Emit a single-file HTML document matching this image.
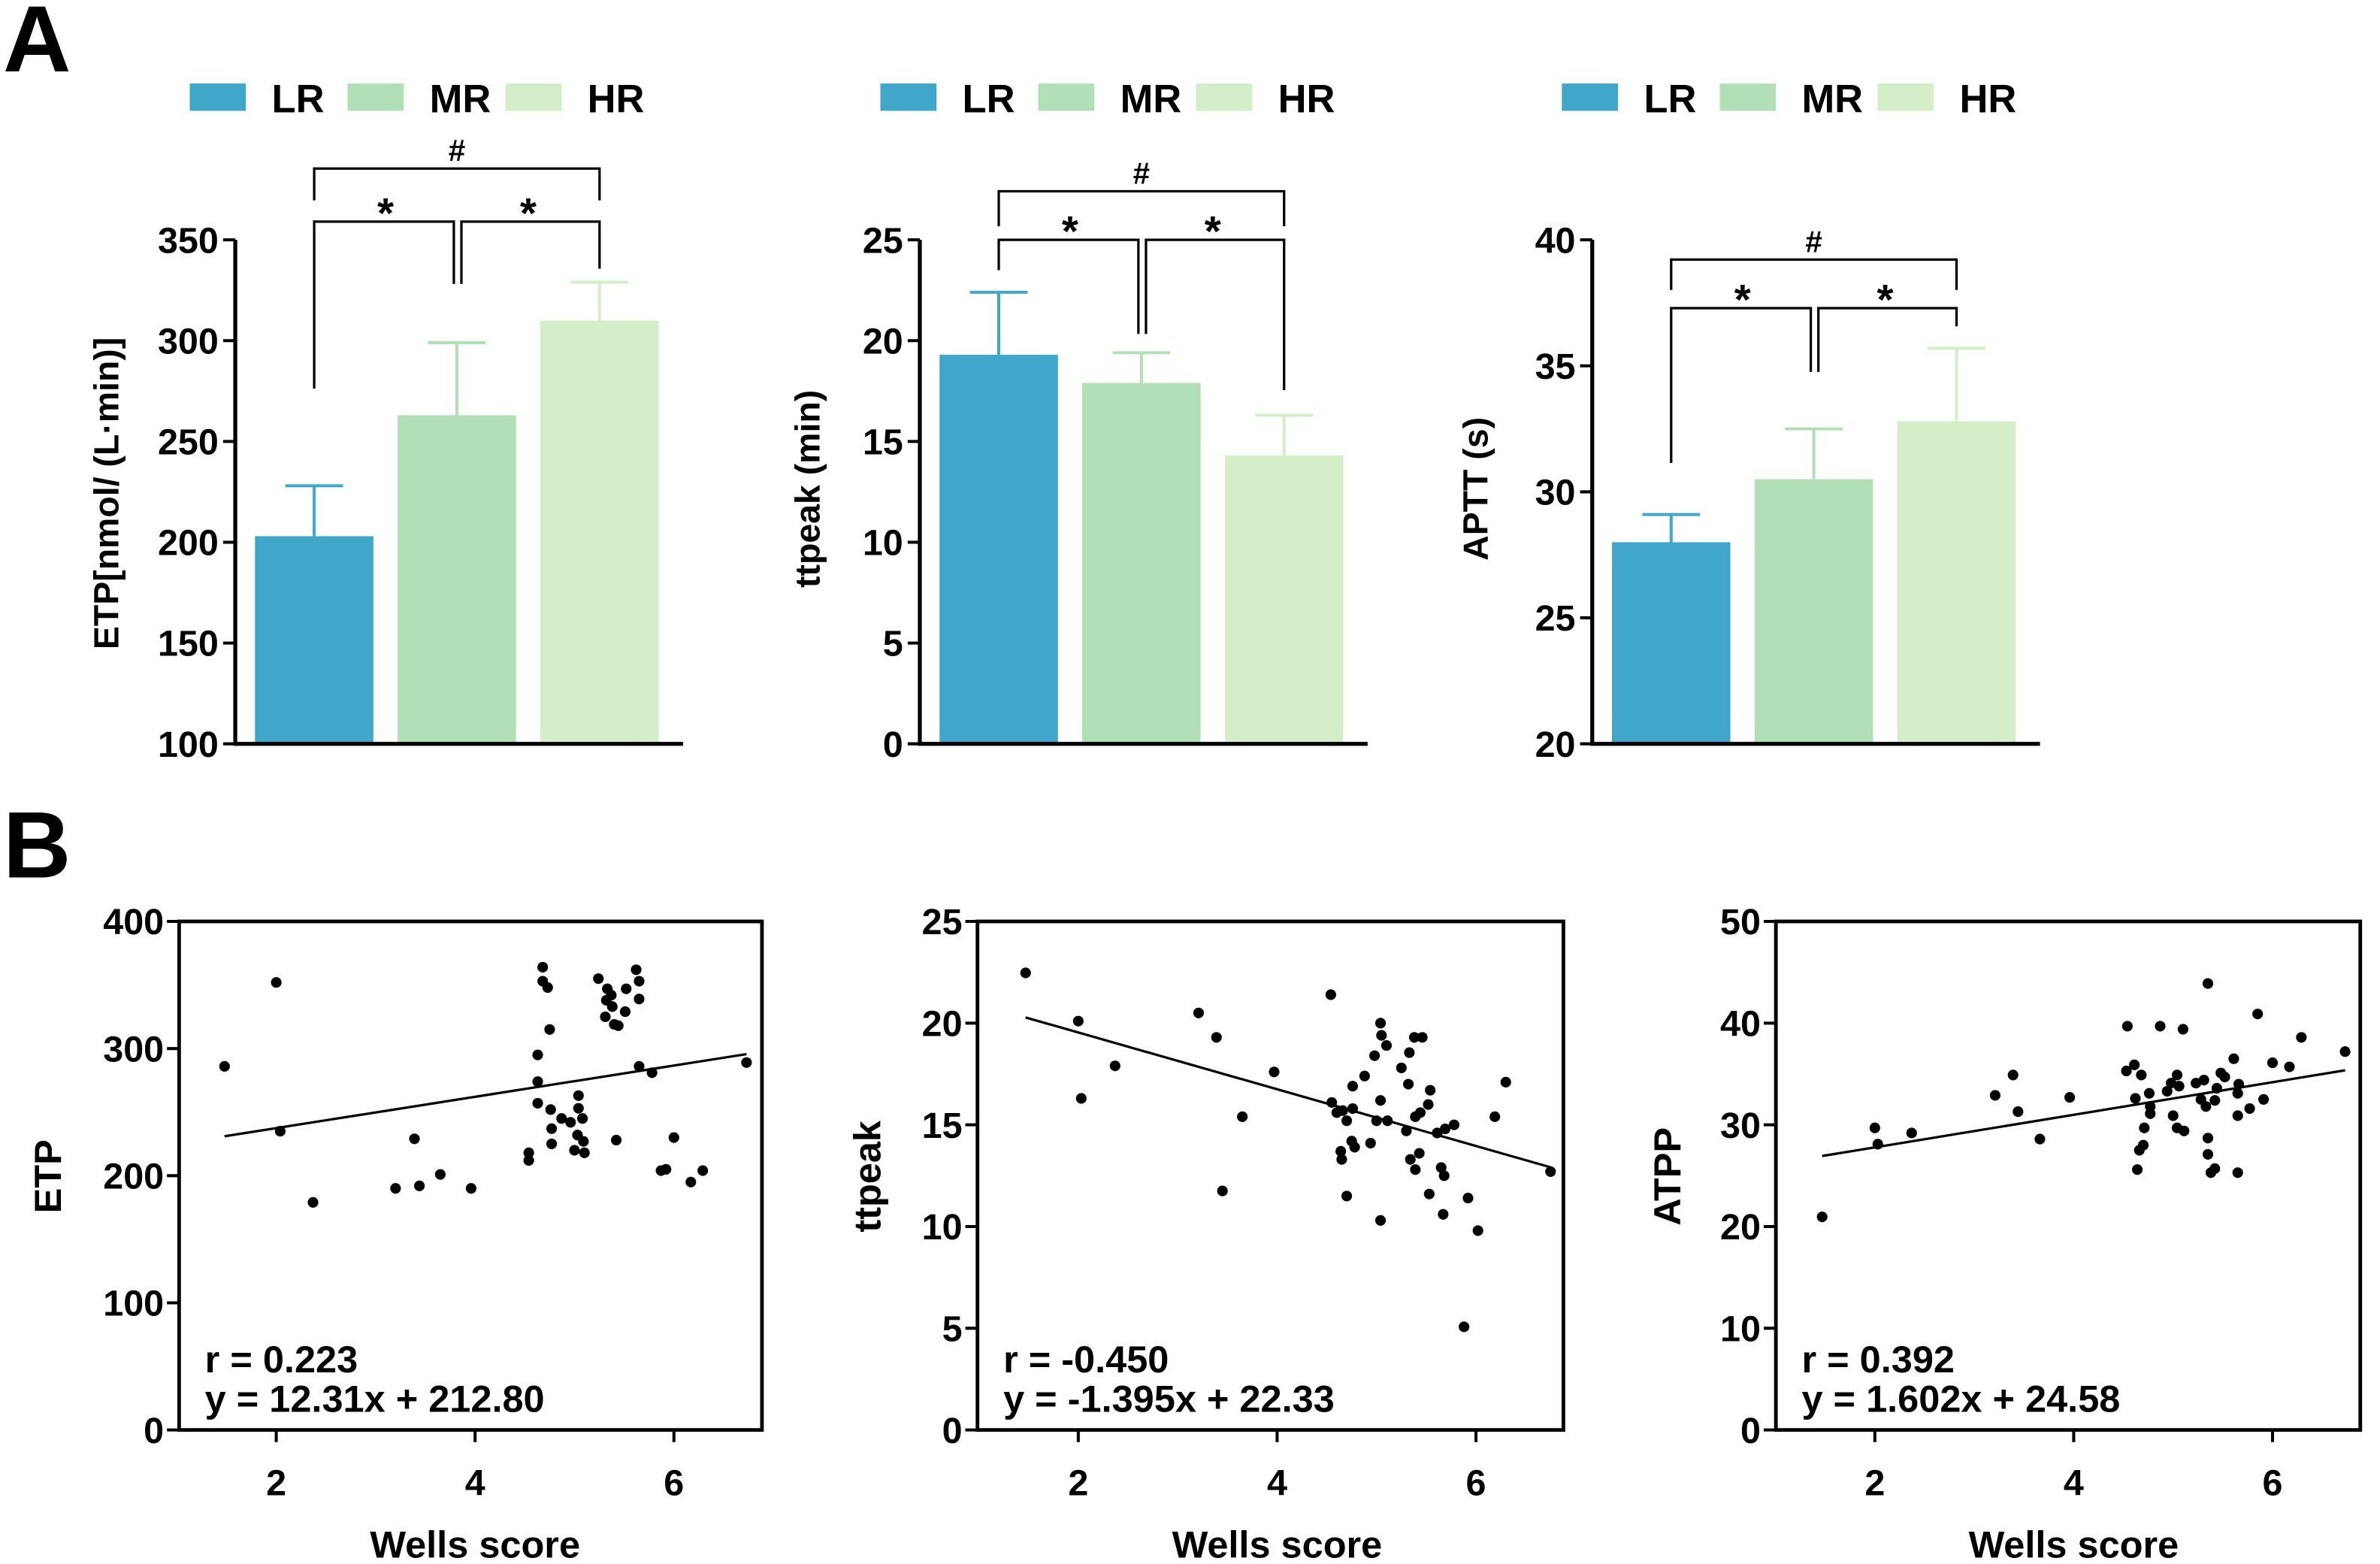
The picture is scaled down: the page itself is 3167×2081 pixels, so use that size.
<!DOCTYPE html>
<html><head><meta charset="utf-8">
<style>
html,body{margin:0;padding:0;background:#fff;}
svg{display:block;}
text{font-family:"Liberation Sans",Arial,sans-serif;fill:#000;}
</style></head>
<body>
<svg id="fig" xmlns="http://www.w3.org/2000/svg" width="3167" height="2081" viewBox="0 0 1568 1030.3">
<rect x="0" y="0" width="1568" height="1030.3" fill="#fff"/>
<text x="2" y="47" font-size="62" font-weight="bold">A</text>
<text x="2" y="578" font-size="62" font-weight="bold">B</text>
<g id="barsA"></g>
<g id="scatterB"></g>
</svg>
<script>
// ---------- Panel A data ----------
const groups = ["LR", "MR", "HR"];
const etpMeans = [203, 263, 310];
const etpErrTops = [228, 299, 329];
const ttpeakMeans = [19.3, 17.9, 14.3];
const ttpeakErrTops = [22.4, 19.4, 16.3];
const apttMeans = [28.0, 30.5, 32.8];
const apttErrTops = [29.1, 32.5, 35.7];
const etpTicks = [100, 150, 200, 250, 300, 350];
const ttpeakTicks = [0, 5, 10, 15, 20, 25];
const apttTicks = [20, 25, 30, 35, 40];
const sigLabels = ["#", "*", "*"];

// ---------- Panel B data ----------
const etpX = [2.0,1.48,2.04,2.37,3.39,3.20,3.44,3.65,3.96,4.54,4.54,4.68,4.68,4.73,4.75,4.63,4.63,4.63,4.76,4.77,4.77,4.87,4.96,5.04,5.04,5.08,5.03,5.09,5.0,5.10,5.24,5.33,5.37,5.32,5.38,5.31,5.40,5.44,5.51,5.52,5.62,5.65,5.65,5.42,5.65,5.78,6.0,5.87,5.92,6.17,6.29,6.73];
const etpY = [352,286,235,179,229,190,192,201,190,218,212,364,353,348,315,295,274,257,252,237,225,245,242,263,253,245,232,227,220,218,355,347,342,338,333,325,319,318,329,347,362,353,339,228,286,281,230,204,205,195,204,289];
const ttX = [1.47,2.0,2.03,2.37,3.21,3.39,3.45,3.65,3.97,4.54,4.55,4.60,4.66,4.70,4.76,4.76,4.64,4.65,4.75,4.78,4.70,4.88,4.94,4.98,5.04,5.05,5.10,5.04,5.0,5.11,5.04,5.25,5.33,5.32,5.30,5.38,5.46,5.39,5.44,5.34,5.43,5.39,5.52,5.54,5.53,5.61,5.69,5.78,5.65,5.68,5.67,5.92,6.02,5.88,6.19,6.30,6.75];
const ttY = [22.47,20.1,16.3,17.9,20.5,19.3,11.75,15.4,17.6,21.4,16.1,15.6,15.7,15.2,15.8,16.9,13.7,13.3,14.2,13.9,11.5,17.4,14.1,18.4,20.0,19.4,18.9,16.2,15.2,15.2,10.3,17.8,18.55,17.0,14.7,19.3,19.3,15.4,15.6,13.3,13.6,12.8,16.0,16.7,11.6,14.6,14.8,15.0,12.9,12.5,10.6,11.4,9.8,5.07,15.4,17.1,12.7];
const apX = [1.47,2.0,2.03,2.37,3.21,3.39,3.44,3.66,3.96,4.54,4.61,4.53,4.68,4.62,4.76,4.77,4.77,4.71,4.70,4.66,4.64,4.87,4.94,4.98,5.04,5.06,5.0,5.04,5.11,5.10,5.23,5.31,5.28,5.33,5.42,5.44,5.35,5.35,5.35,5.38,5.42,5.48,5.52,5.61,5.66,5.65,5.65,5.77,5.65,5.85,5.91,6.0,6.17,6.29,6.73];
const apY = [20.95,29.7,28.1,29.2,32.9,34.9,31.3,28.6,32.7,39.7,35.9,35.3,34.9,32.6,33.1,31.8,31.1,29.7,28.0,27.5,25.6,39.7,33.3,34.1,34.9,33.8,30.9,29.7,29.4,39.4,34.1,34.4,32.5,31.8,32.4,33.6,43.9,28.7,27.1,25.3,25.7,35.1,34.7,36.5,34.0,33.1,30.9,31.6,25.3,40.9,32.5,36.1,35.7,38.6,37.2];
const xTicksB = [2, 4, 6];
const etpTicksB = [0, 100, 200, 300, 400];
const ttTicksB = [0, 5, 10, 15, 20, 25];
const apTicksB = [0, 10, 20, 30, 40, 50];
const fitSlopes = [12.31, -1.395, 1.602];
const fitIntercepts = [212.80, 22.33, 24.58];
const rLabels = ["r = 0.223", "r = -0.450", "r = 0.392"];
const eqLabels = ["y = 12.31x + 212.80", "y = -1.395x + 22.33", "y = 1.602x + 24.58"];

const NS = "http://www.w3.org/2000/svg";
const colors = ["#40a6ca", "#b1e0b7", "#d3eec8"];
function mk(tag, attrs, parent) {
  const e = document.createElementNS(NS, tag);
  for (const k in attrs) e.setAttribute(k, attrs[k]);
  parent.appendChild(e);
  return e;
}

function barChart(cfg) {
  const g = mk("g", {}, document.getElementById("barsA"));
  
  
  const y = v => cfg.y0 - (v - cfg.ymin) / (cfg.ymax - cfg.ymin) * (cfg.y0 - cfg.y1);
  groups.forEach((gname, i) => {
    const lx = cfg.legX + i * 104;
    const sw = mk("rect", {x: lx, y: 55, width: 37, height: 18, fill: colors[i]}, g);
    
    
    const t = mk("text", {x: lx + 54, y: 74, "font-size": 26, "font-weight": "bold"}, g);
    t.textContent = gname;
    
    
  });
  const centers = [];
  cfg.means.forEach((m, i) => {
    const bx = cfg.ax + 13 + i * 94;
    const cx = bx + 39;
    centers.push(cx);
    const r = mk("rect", {x: bx, y: y(m), width: 78, height: cfg.y0 - y(m), fill: colors[i]}, g);
    
    
    const e = mk("path", {d: `M${cx},${y(m)}V${y(cfg.errs[i])}M${cx-19},${y(cfg.errs[i])}H${cx+19}`, stroke: colors[i], "stroke-width": 2, fill: "none"}, g);
    
    
  });
  const ax = mk("path", {d: `M${cfg.ax},${cfg.y1}V${cfg.y0}H${cfg.ax + 295}`, stroke: "#000", "stroke-width": 2.6, fill: "none"}, g);
  
  
  cfg.ticks.forEach(t => {
    const tk = mk("line", {x1: cfg.ax - 8, x2: cfg.ax, y1: y(t), y2: y(t), stroke: "#000", "stroke-width": 2}, g);
    
    
    const tl = mk("text", {x: cfg.ax - 11, y: y(t) + 8.5, "font-size": 24, "font-weight": "bold", "text-anchor": "end"}, g);
    tl.textContent = t;
    
    
  });
  const yt = mk("text", {transform: `translate(${cfg.titleX},${cfg.titleY}) rotate(-90)`, "font-size": 23, "font-weight": "bold", "text-anchor": "middle"}, g);
  yt.textContent = cfg.title;
  
  
  const b = cfg.br;
  const [c0, c1, c2] = centers;
  const bp = mk("path", {d:
    `M${c0},${b.hb}V${b.h}H${c2}V${b.hb}` +
    `M${c0},${b.l}V${b.s}H${c1-2}V${b.m}` +
    `M${c1+3},${b.m}V${b.s}H${c2}V${b.r}`,
    stroke: "#000", "stroke-width": 1.6, fill: "none"}, g);
  
  
  [[ (c0+c2)/2, b.h - 5, sigLabels[0], 20], [(c0+c1)/2, b.s + 4, sigLabels[1], 28], [(c1+c2)/2, b.s + 4, sigLabels[2], 28]].forEach(([x, yy, s, fs]) => {
    const st = mk("text", {x: x, y: yy, "font-size": fs, "font-weight": "bold", "text-anchor": "middle"}, g);
    st.textContent = s;
    
    
  });
}

barChart({name: "etp-bar-chart", ax: 155, y0: 490, y1: 158, ymin: 100, ymax: 350, means: etpMeans, errs: etpErrTops, ticks: etpTicks, title: "ETP[nmol/ (L·min)]", titleX: 78, titleY: 325, legX: 125, br: {h: 111, hb: 132, s: 146, l: 256, m: 187, r: 177}});
barChart({name: "ttpeak-bar-chart", ax: 606, y0: 490, y1: 158, ymin: 0, ymax: 25, means: ttpeakMeans, errs: ttpeakErrTops, ticks: ttpeakTicks, title: "ttpeak (min)", titleX: 540, titleY: 322, legX: 580, br: {h: 126, hb: 149, s: 158, l: 178, m: 220, r: 257}});
barChart({name: "aptt-bar-chart", ax: 1049, y0: 490, y1: 158, ymin: 20, ymax: 40, means: apttMeans, errs: apttErrTops, ticks: apttTicks, title: "APTT (s)", titleX: 980, titleY: 322, legX: 1029, br: {h: 171, hb: 191, s: 203, l: 305, m: 245, r: 215}});

function scatter(cfg, k) {
  const g = mk("g", {}, document.getElementById("scatterB"));
  
  
  const top = 607, bot = 942;
  const x = v => cfg.x2 + (v - 2) * cfg.ppu;
  const y = v => bot - v / cfg.ymax * (bot - top);
  const fr = mk("rect", {x: cfg.left, y: top, width: cfg.right - cfg.left, height: bot - top, fill: "none", stroke: "#000", "stroke-width": 2.4}, g);
  
  
  cfg.yt.forEach(t => {
    const tk = mk("line", {x1: cfg.left - 8, x2: cfg.left, y1: y(t), y2: y(t), stroke: "#000", "stroke-width": 2}, g);
    
    
    const tl = mk("text", {x: cfg.left - 10, y: y(t) + 8.5, "font-size": 24, "font-weight": "bold", "text-anchor": "end"}, g);
    tl.textContent = t;
    
    
  });
  xTicksB.forEach(t => {
    const tk = mk("line", {x1: x(t), x2: x(t), y1: bot, y2: bot + 8, stroke: "#000", "stroke-width": 2}, g);
    
    
    const tl = mk("text", {x: x(t), y: 985, "font-size": 24, "font-weight": "bold", "text-anchor": "middle"}, g);
    tl.textContent = t;
    
    
  });
  const xt = mk("text", {x: x(4), y: 1026, "font-size": 25, "font-weight": "bold", "text-anchor": "middle"}, g);
  xt.textContent = "Wells score";
  
  
  const yt = mk("text", {transform: `translate(${cfg.titleX},775) rotate(-90)`, "font-size": 25, "font-weight": "bold", "text-anchor": "middle"}, g);
  yt.textContent = cfg.title;
  
  
  const xmin = Math.min(...cfg.xs), xmax = Math.max(...cfg.xs);
  const ln = mk("line", {x1: x(xmin), y1: y(fitSlopes[k]*xmin + fitIntercepts[k]), x2: x(xmax), y2: y(fitSlopes[k]*xmax + fitIntercepts[k]), stroke: "#000", "stroke-width": 1.6}, g);
  
  
  cfg.xs.forEach((v, i) => {
    const c = mk("circle", {cx: x(v), cy: y(cfg.ys[i]), r: 3.5, fill: "#000"}, g);
    
    
  });
  const r1 = mk("text", {x: cfg.left + 17, y: 904, "font-size": 25, "font-weight": "bold"}, g);
  r1.textContent = rLabels[k];
  
  
  const r2 = mk("text", {x: cfg.left + 17, y: 930, "font-size": 25, "font-weight": "bold"}, g);
  r2.textContent = eqLabels[k];
  
  
}
scatter({name: "etp-scatter", left: 118, right: 502, x2: 182, ppu: 65.5, ymax: 400, yt: etpTicksB, xs: etpX, ys: etpY, title: "ETP", titleX: 40}, 0);
scatter({name: "ttpeak-scatter", left: 644, right: 1030, x2: 710.4, ppu: 65.5, ymax: 25, yt: ttTicksB, xs: ttX, ys: ttY, title: "ttpeak", titleX: 580}, 1);
scatter({name: "atpp-scatter", left: 1170, right: 1555, x2: 1235.2, ppu: 65.5, ymax: 50, yt: apTicksB, xs: apX, ys: apY, title: "ATPP", titleX: 1107}, 2);
</script>
</body></html>
